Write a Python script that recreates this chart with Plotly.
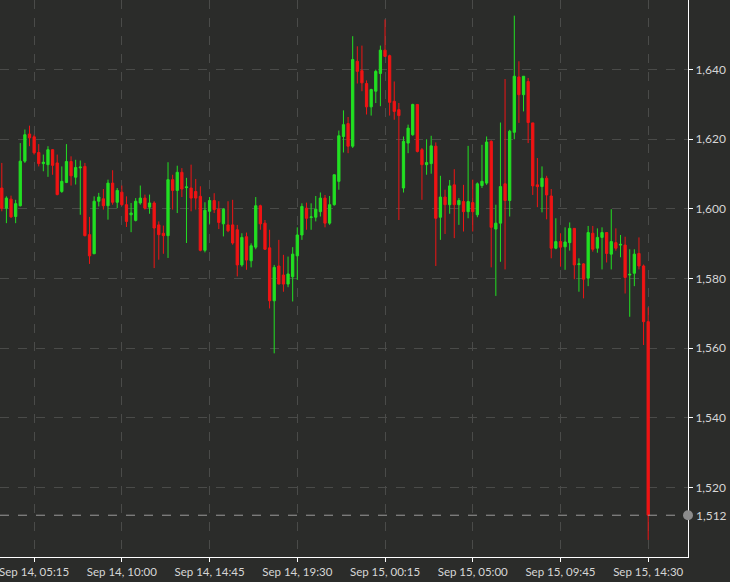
import pandas as pd
import plotly.graph_objects as go

# 15 minute candles, Sep 14 03:30 -> Sep 15 14:30
start = "2022-09-14 03:30"
opens = [1606.0, 1600.2, 1602.8, 1597.8, 1600.9, 1613.7, 1621.5, 1620.7, 1616.2, 1613.0,
         1612.7, 1617.0, 1613.2, 1605.0, 1607.6, 1613.6, 1609.1, 1611.8, 1612.2, 1592.6,
         1587.1, 1602.2, 1602.9, 1600.9, 1607.4, 1601.9, 1604.8, 1601.2, 1598.3, 1596.7,
         1601.7, 1603.1, 1600.5, 1601.7, 1595.4, 1593.0, 1592.3, 1608.4, 1605.3, 1610.5,
         1606.1, 1606.0, 1605.0, 1603.6, 1588.1, 1599.3, 1602.4, 1599.9, 1595.7, 1595.4,
         1595.4, 1594.0, 1583.9, 1592.0, 1585.1, 1589.0, 1600.9, 1595.9, 1588.8, 1573.6,
         1583.6, 1581.0, 1578.4, 1580.5, 1586.5, 1592.5, 1600.2, 1597.5, 1597.6, 1599.2,
         1603.1, 1595.9, 1601.2, 1607.9, 1620.8, 1624.5, 1618.0, 1642.4, 1639.7, 1636.0,
         1629.3, 1633.8, 1638.9, 1645.6, 1644.0, 1630.9, 1628.5, 1606.0, 1618.9, 1621.3,
         1630.0, 1617.0, 1612.7, 1613.0, 1618.0, 1597.6, 1603.4, 1601.2, 1606.9, 1601.2,
         1602.1, 1599.2, 1601.8, 1598.3, 1606.7, 1607.4, 1619.4, 1594.2, 1595.9, 1607.2,
         1602.4, 1622.0, 1637.9, 1632.8, 1636.6, 1624.7, 1606.9, 1606.4, 1608.8, 1603.7,
         1588.7, 1590.6, 1589.1, 1590.3, 1594.4, 1584.0, 1584.2, 1580.1, 1593.0, 1588.7,
         1591.8, 1593.2, 1587.0, 1590.3, 1589.6, 1589.6, 1581.0, 1581.5, 1587.2, 1583.6,
         1567.6]
highs = [1613.2, 1603.6, 1603.8, 1602.6, 1618.9, 1622.8, 1623.9, 1621.3, 1618.6, 1615.6,
         1618.0, 1617.2, 1615.6, 1612.2, 1618.6, 1615.1, 1614.1, 1613.9, 1613.2, 1597.7,
         1603.6, 1604.6, 1605.7, 1608.4, 1611.1, 1606.0, 1606.7, 1603.6, 1601.7, 1603.1,
         1606.7, 1604.1, 1604.1, 1602.2, 1596.4, 1595.2, 1613.4, 1609.8, 1612.4, 1611.7,
         1608.9, 1612.7, 1608.6, 1606.5, 1601.9, 1603.4, 1604.5, 1602.2, 1600.2, 1602.2,
         1602.6, 1595.4, 1593.0, 1593.2, 1590.1, 1603.4, 1601.2, 1596.8, 1594.0, 1583.9,
         1591.1, 1586.8, 1586.3, 1589.0, 1594.7, 1601.6, 1601.8, 1601.6, 1603.7, 1604.7,
         1604.0, 1603.7, 1609.8, 1622.5, 1628.3, 1626.4, 1649.6, 1646.7, 1646.9, 1636.9,
         1634.5, 1640.0, 1646.9, 1654.4, 1644.3, 1636.6, 1630.4, 1620.8, 1624.2, 1630.2,
         1630.0, 1617.5, 1620.0, 1621.0, 1619.1, 1609.5, 1605.5, 1608.3, 1611.4, 1603.1,
         1606.9, 1618.1, 1608.4, 1607.6, 1618.4, 1620.8, 1619.7, 1601.2, 1624.8, 1637.3,
         1622.7, 1655.5, 1642.4, 1638.1, 1637.6, 1624.7, 1614.6, 1612.2, 1609.5, 1605.7,
         1597.3, 1593.0, 1594.7, 1596.1, 1594.4, 1585.8, 1584.4, 1595.1, 1595.1, 1594.4,
         1594.7, 1593.2, 1599.9, 1594.4, 1592.5, 1592.0, 1588.4, 1588.4, 1591.8, 1584.0,
         1571.7]
lows = [1599.3, 1595.9, 1597.4, 1595.9, 1600.7, 1613.2, 1618.0, 1615.6, 1612.2, 1610.8,
        1609.2, 1609.8, 1603.9, 1604.6, 1607.4, 1606.7, 1607.0, 1598.3, 1592.1, 1584.2,
        1587.1, 1600.7, 1599.8, 1596.9, 1601.2, 1600.2, 1600.9, 1594.8, 1593.3, 1596.4,
        1601.2, 1599.8, 1598.6, 1583.0, 1585.4, 1587.1, 1585.9, 1599.8, 1598.8, 1603.4,
        1590.2, 1599.3, 1599.8, 1587.8, 1587.5, 1595.7, 1598.8, 1594.2, 1592.1, 1593.3,
        1589.7, 1580.6, 1583.4, 1582.5, 1583.2, 1588.4, 1594.0, 1588.2, 1571.4, 1558.5,
        1578.4, 1576.2, 1577.5, 1573.4, 1579.6, 1591.1, 1594.0, 1594.0, 1596.4, 1597.8,
        1594.7, 1595.4, 1600.9, 1605.5, 1616.2, 1616.0, 1617.5, 1636.0, 1633.8, 1627.1,
        1626.8, 1630.4, 1629.5, 1643.6, 1626.8, 1625.6, 1596.8, 1604.7, 1616.0, 1621.0,
        1616.2, 1602.6, 1609.8, 1610.1, 1583.6, 1591.1, 1592.8, 1598.6, 1591.6, 1595.4,
        1593.5, 1597.3, 1593.5, 1597.6, 1606.0, 1606.9, 1583.2, 1575.0, 1584.8, 1582.6,
        1597.8, 1620.0, 1624.7, 1628.0, 1618.9, 1604.0, 1600.5, 1599.0, 1597.0, 1585.8,
        1588.4, 1583.4, 1582.5, 1588.0, 1579.8, 1576.2, 1574.3, 1577.8, 1587.7, 1587.4,
        1582.6, 1584.6, 1582.6, 1588.0, 1586.1, 1575.7, 1569.0, 1577.8, 1582.6, 1560.9,
        1504.9]
closes = [1600.2, 1603.1, 1597.7, 1601.5, 1613.7, 1621.3, 1620.4, 1616.1, 1613.0, 1613.4,
          1617.0, 1612.5, 1604.1, 1607.9, 1613.6, 1609.5, 1611.9, 1612.0, 1592.3, 1586.5,
          1602.2, 1603.4, 1600.9, 1607.4, 1601.9, 1605.3, 1601.2, 1596.4, 1598.8, 1602.2,
          1603.1, 1600.2, 1601.7, 1594.5, 1592.6, 1592.3, 1608.4, 1605.3, 1610.5, 1605.7,
          1606.3, 1603.1, 1603.1, 1588.1, 1599.6, 1602.4, 1599.8, 1596.1, 1599.9, 1593.7,
          1590.2, 1583.9, 1591.8, 1585.3, 1589.4, 1600.9, 1595.7, 1588.4, 1573.6, 1583.2,
          1578.4, 1578.4, 1581.3, 1587.0, 1592.5, 1600.7, 1597.3, 1597.7, 1599.9, 1603.1,
          1595.9, 1601.2, 1609.8, 1621.0, 1624.2, 1618.0, 1642.9, 1639.5, 1636.2, 1629.3,
          1634.3, 1639.5, 1645.6, 1643.8, 1630.6, 1628.0, 1626.8, 1619.4, 1623.2, 1630.0,
          1616.5, 1612.7, 1613.3, 1618.1, 1597.3, 1603.4, 1601.2, 1606.6, 1601.2, 1602.4,
          1599.2, 1602.1, 1599.2, 1607.2, 1607.9, 1619.2, 1594.7, 1595.9, 1606.4, 1602.4,
          1622.3, 1638.1, 1632.8, 1638.1, 1624.8, 1606.6, 1606.4, 1608.8, 1604.0, 1588.7,
          1590.6, 1589.0, 1590.5, 1594.4, 1583.9, 1584.2, 1579.8, 1593.2, 1588.4, 1591.8,
          1593.2, 1587.2, 1590.6, 1588.7, 1589.8, 1580.3, 1581.2, 1587.0, 1583.6, 1567.6,
          1512.0]

times = pd.date_range(start, periods=len(opens), freq="15min")

x_ticks = ["2022-09-14 05:15", "2022-09-14 10:00", "2022-09-14 14:45", "2022-09-14 19:30",
           "2022-09-15 00:15", "2022-09-15 05:00", "2022-09-15 09:45", "2022-09-15 14:30"]
x_tick_text = ["Sep 14, 05:15", "Sep 14, 10:00", "Sep 14, 14:45", "Sep 14, 19:30",
               "Sep 15, 00:15", "Sep 15, 05:00", "Sep 15, 09:45", "Sep 15, 14:30"]
y_ticks = [1520, 1540, 1560, 1580, 1600, 1620, 1640]
last_price = 1512

bg = "#2b2c2a"
grid = "#4a4b49"
txt = "#d6d6d6"

fig = go.Figure()
fig.add_trace(go.Candlestick(
    x=times, open=opens, high=highs, low=lows, close=closes,
    increasing=dict(line=dict(color="#22e022", width=1), fillcolor="#22e022"),
    decreasing=dict(line=dict(color="#f01414", width=1), fillcolor="#f01414"),
    showlegend=False, hoverinfo="skip"
))

# last price line + dot
fig.add_shape(type="line", xref="paper", yref="y", x0=0, x1=1, y0=last_price, y1=last_price,
              line=dict(color="#9a9a9a", width=1, dash="dash"))
fig.add_shape(type="circle", xref="paper", yref="y", xsizemode="pixel", ysizemode="pixel",
              xanchor=1, yanchor=last_price, x0=-5, x1=5, y0=-5, y1=5,
              fillcolor="#8c8c8c", line=dict(width=0))
fig.add_annotation(xref="paper", yref="y", x=1, y=last_price, xanchor="left", xshift=6,
                   text=f"{last_price:,}", showarrow=False, font=dict(color=txt, size=12))

fig.update_layout(
    width=730, height=582,
    paper_bgcolor=bg, plot_bgcolor=bg,
    margin=dict(l=0, r=42, t=0, b=25),
    font=dict(family="Lato, 'Noto Sans', sans-serif", size=12, color=txt),
    xaxis=dict(
        range=["2022-09-14 03:24:09", "2022-09-15 16:39:20"],
        rangeslider=dict(visible=False),
        tickvals=x_ticks, ticktext=x_tick_text, tickfont=dict(size=11.5),
        showgrid=True, gridcolor=grid, griddash="dash", gridwidth=1,
        showline=True, linecolor="#ffffff", linewidth=1,
        ticks="outside", ticklen=4, tickcolor="#ffffff",
        ticklabeloverflow="allow", automargin=False,
        zeroline=False,
    ),
    yaxis=dict(
        range=[1500, 1660], side="right",
        tickvals=y_ticks, tickformat=",d",
        showgrid=True, gridcolor=grid, griddash="dash", gridwidth=1,
        showline=True, linecolor="#ffffff", linewidth=1,
        ticks="outside", ticklen=4, tickcolor="#ffffff",
        automargin=False,
        zeroline=False,
    ),
)

fig.write_html("out.html", config={"displayModeBar": False},
               post_script="document.body.style.margin='0';")
